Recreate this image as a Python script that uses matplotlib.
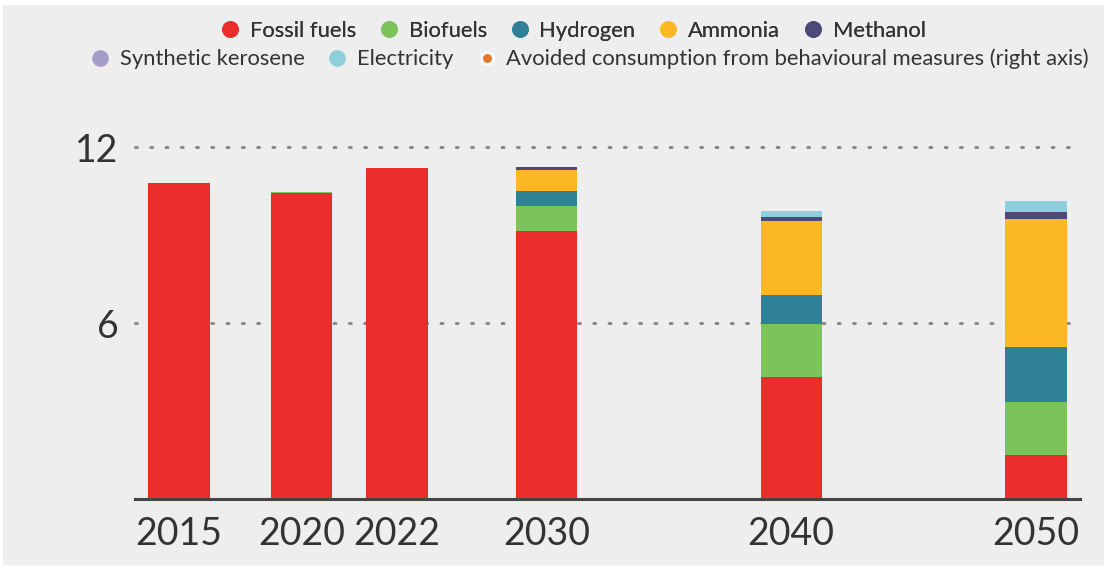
import matplotlib.pyplot as plt
from matplotlib.lines import Line2D
from matplotlib.patches import Rectangle
import numpy as np

years = ['2015', '2020', '2022', '2030', '2040', '2050']

# energy demand by fuel, stacked bottom to top
fossil = [10.77, 10.42, 11.28, 9.14, 4.16, 1.50]
biofuels = [0.0, 0.05, 0.0, 0.85, 1.81, 1.80]
hydrogen = [0.0, 0.0, 0.0, 0.50, 0.99, 1.88]
ammonia = [0.0, 0.0, 0.0, 0.72, 2.52, 4.38]
methanol = [0.0, 0.0, 0.0, 0.10, 0.13, 0.23]
synth_kerosene = [0.0, 0.0, 0.0, 0.0, 0.0, 0.0]
electricity = [0.0, 0.0, 0.0, 0.0, 0.22, 0.36]

series = [
    ('Fossil fuels', fossil, '#ea2d2b'),
    ('Biofuels', biofuels, '#7cc35b'),
    ('Hydrogen', hydrogen, '#2e8196'),
    ('Ammonia', ammonia, '#fbb824'),
    ('Methanol', methanol, '#4d4979'),
    ('Synthetic kerosene', synth_kerosene, '#a79cc9'),
    ('Electricity', electricity, '#8dcfdc'),
]
avoided_label = 'Avoided consumption from behavioural measures (right axis)'
avoided_color = '#e8762c'

bg = '#eeeeee'
txt = '#333333'

# uneven spacing of the year slots along the axis
slots = [0.18, 0.68, 1.07, 1.68, 2.68, 3.68]
bar_w = 0.25

fig = plt.figure(figsize=(11.07, 5.70), dpi=100)
fig.patch.set_facecolor('white')
fig.add_artist(Rectangle((3 / 1107, 5 / 570), 1101 / 1107, 560 / 570,
                         transform=fig.transFigure, facecolor=bg,
                         edgecolor='none', zorder=0))

ax = fig.add_axes([135 / 1107, 71 / 570, 945 / 1107, 352 / 570])
ax.set_facecolor('none')
ax.set_xlim(0, 3.86)
ax.set_ylim(0, 12)

bottom = np.zeros(len(years))
for name, vals, col in series:
    vals = np.array(vals)
    ax.bar(slots, vals, width=bar_w, bottom=bottom, color=col,
           edgecolor='none', zorder=3)
    bottom += vals

for y in (6, 12):
    ax.axhline(y, color='#8a8a8a', lw=2.2, ls=(0, (0.6, 4.4)),
               dash_capstyle='round', clip_on=False, zorder=1)
ax.axhline(0, color='#444444', lw=2.2, clip_on=False, zorder=4)

for s in ax.spines.values():
    s.set_visible(False)

ax.set_yticks([6, 12])
ax.set_yticklabels(['6', '12'], fontsize=27, color=txt, family='Lato')
ax.tick_params(axis='y', length=0, pad=12)
ax.set_xticks(slots)
ax.set_xticklabels(years, fontsize=27, color=txt, family='Lato')
ax.tick_params(axis='x', length=0, pad=12)

# legend in two centred rows
def handle(col, edge='none'):
    return Line2D([], [], ls='none', marker='o', markersize=12,
                  markerfacecolor=col, markeredgecolor=edge)

row1 = series[:5]
row2 = series[5:]
leg_kw = dict(frameon=False, handletextpad=0.4, columnspacing=1.0,
              handlelength=1.0, prop={'family': 'Lato', 'size': 15.8},
              labelcolor=txt)
leg1 = fig.legend([handle(c) for _, _, c in row1], [n for n, _, _ in row1],
                  loc='center', bbox_to_anchor=(0.517, 1 - 31 / 570),
                  ncol=5, **leg_kw)
h2 = [handle(c) for _, _, c in row2]
h2.append(Line2D([], [], ls='none', marker='o', markersize=8.5,
                 markerfacecolor=avoided_color, markeredgecolor='white',
                 markeredgewidth=2))
leg2 = fig.legend(h2, [n for n, _, _ in row2] + [avoided_label],
                  loc='center', bbox_to_anchor=(0.532, 1 - 59 / 570),
                  ncol=3, **leg_kw)
fig.add_artist(leg1)

fig.savefig('out.png', dpi=100, facecolor=fig.get_facecolor())
